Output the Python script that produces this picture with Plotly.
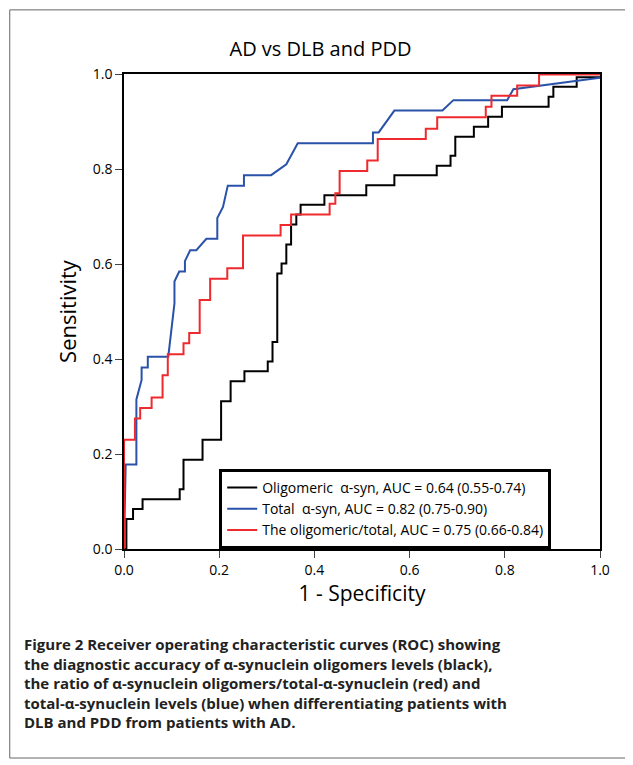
import plotly.graph_objects as go

# ROC points (1 - specificity, sensitivity)
olig_x = [0, 0.005, 0.019, 0.039, 0.117, 0.125, 0.165, 0.204, 0.224, 0.253, 0.302, 0.312, 0.322,
          0.331, 0.341, 0.351, 0.362, 0.371, 0.421, 0.509, 0.568, 0.657, 0.686, 0.696, 0.735,
          0.765, 0.794, 0.892, 0.902, 0.951, 1.0]
olig_y = [0, 0.063, 0.084, 0.105, 0.126, 0.188, 0.230, 0.311, 0.353, 0.374, 0.395, 0.436, 0.580,
          0.601, 0.641, 0.683, 0.704, 0.725, 0.745, 0.766, 0.787, 0.807, 0.828, 0.868, 0.889,
          0.910, 0.931, 0.952, 0.973, 0.993, 0.993]

total_x = [0, 0.0035, 0.026, 0.026, 0.037, 0.037, 0.050, 0.050, 0.093, 0.106, 0.106, 0.116, 0.128,
           0.128, 0.139, 0.152, 0.173, 0.196, 0.196, 0.208, 0.218, 0.252, 0.252, 0.309, 0.341,
           0.365, 0.523, 0.523, 0.535, 0.568, 0.669, 0.692, 0.805, 0.818, 1.0]
total_y = [0, 0.178, 0.178, 0.315, 0.356, 0.382, 0.382, 0.405, 0.405, 0.517, 0.563, 0.584, 0.584,
           0.606, 0.629, 0.629, 0.653, 0.653, 0.697, 0.720, 0.765, 0.765, 0.787, 0.787, 0.810,
           0.854, 0.854, 0.877, 0.877, 0.923, 0.923, 0.945, 0.945, 0.968, 0.992]

ratio_x = [0, 0, 0.023, 0.034, 0.058, 0.081, 0.092, 0.125, 0.137, 0.159, 0.181, 0.217, 0.250,
           0.329, 0.351, 0.432, 0.444, 0.453, 0.511, 0.533, 0.634, 0.658, 0.760, 0.772, 0.826,
           0.872, 1.0]
ratio_y = [0, 0.230, 0.275, 0.297, 0.319, 0.366, 0.410, 0.433, 0.455, 0.524, 0.569, 0.591, 0.660,
           0.682, 0.704, 0.727, 0.749, 0.796, 0.818, 0.863, 0.885, 0.909, 0.931, 0.954, 0.976,
           0.999, 0.999]

names = ["Oligomeric  α-syn, AUC = 0.64 (0.55-0.74)",
         "Total  α-syn, AUC = 0.82 (0.75-0.90)",
         "The oligomeric/total, AUC = 0.75 (0.66-0.84)"]

caption = ("<b>Figure 2 Receiver operating characteristic curves (ROC) showing<br>"
           "the diagnostic accuracy of α-synuclein oligomers levels (black),<br>"
           "the ratio of α-synuclein oligomers/total-α-synuclein (red) and<br>"
           "total-α-synuclein levels (blue) when differentiating patients with<br>"
           "DLB and PDD from patients with AD.</b>")

fig = go.Figure()
fig.add_trace(go.Scatter(x=olig_x, y=olig_y, mode="lines", line_shape="hv",
                         line=dict(color="black", width=2), name=names[0]))
fig.add_trace(go.Scatter(x=total_x, y=total_y, mode="lines",
                         line=dict(color="#2a52a8", width=2), name=names[1]))
fig.add_trace(go.Scatter(x=ratio_x, y=ratio_y, mode="lines", line_shape="hv",
                         line=dict(color="#ee2a2e", width=2), name=names[2]))

fig.update_layout(
    width=625, height=757,
    margin=dict(l=116, r=33, t=66, b=216),
    plot_bgcolor="white", paper_bgcolor="white",
    font=dict(family="Open Sans", color="black"),
    title=dict(text="AD vs DLB and PDD", x=0.5, xanchor="center", y=0.955,
               font=dict(size=20)),
    showlegend=True,
    legend=dict(x=0.2, y=0, xanchor="left", yanchor="bottom",
                bordercolor="black", borderwidth=3, bgcolor="white",
                font=dict(size=14), tracegroupgap=4, itemwidth=30),
    xaxis=dict(range=[0, 1], tickvals=[0, 0.2, 0.4, 0.6, 0.8, 1.0], tickformat=".1f",
               ticks="outside", ticklen=7, showgrid=False, zeroline=False,
               showline=True, linecolor="black", mirror=True, linewidth=1.5,
               tickfont=dict(size=14),
               title=dict(text="1 - Specificity", font=dict(size=21), standoff=2)),
    yaxis=dict(range=[0, 1], tickvals=[0, 0.2, 0.4, 0.6, 0.8, 1.0], tickformat=".1f",
               ticks="outside", ticklen=7, showgrid=False, zeroline=False,
               showline=True, linecolor="black", mirror=True, linewidth=1.5,
               tickfont=dict(size=14),
               title=dict(text="Sensitivity", font=dict(size=22), standoff=10)),
)

fig.add_annotation(text=caption, xref="paper", yref="paper", x=-0.215, y=-0.175,
                   xanchor="left", yanchor="top", align="left", showarrow=False,
                   font=dict(size=15, color="#222"))

fig.add_shape(type="rect", xref="paper", yref="paper", x0=-0.24, x1=1.055, y0=-0.44, y1=1.135,
              line=dict(color="#666", width=1))

fig.write_html("out.html")
